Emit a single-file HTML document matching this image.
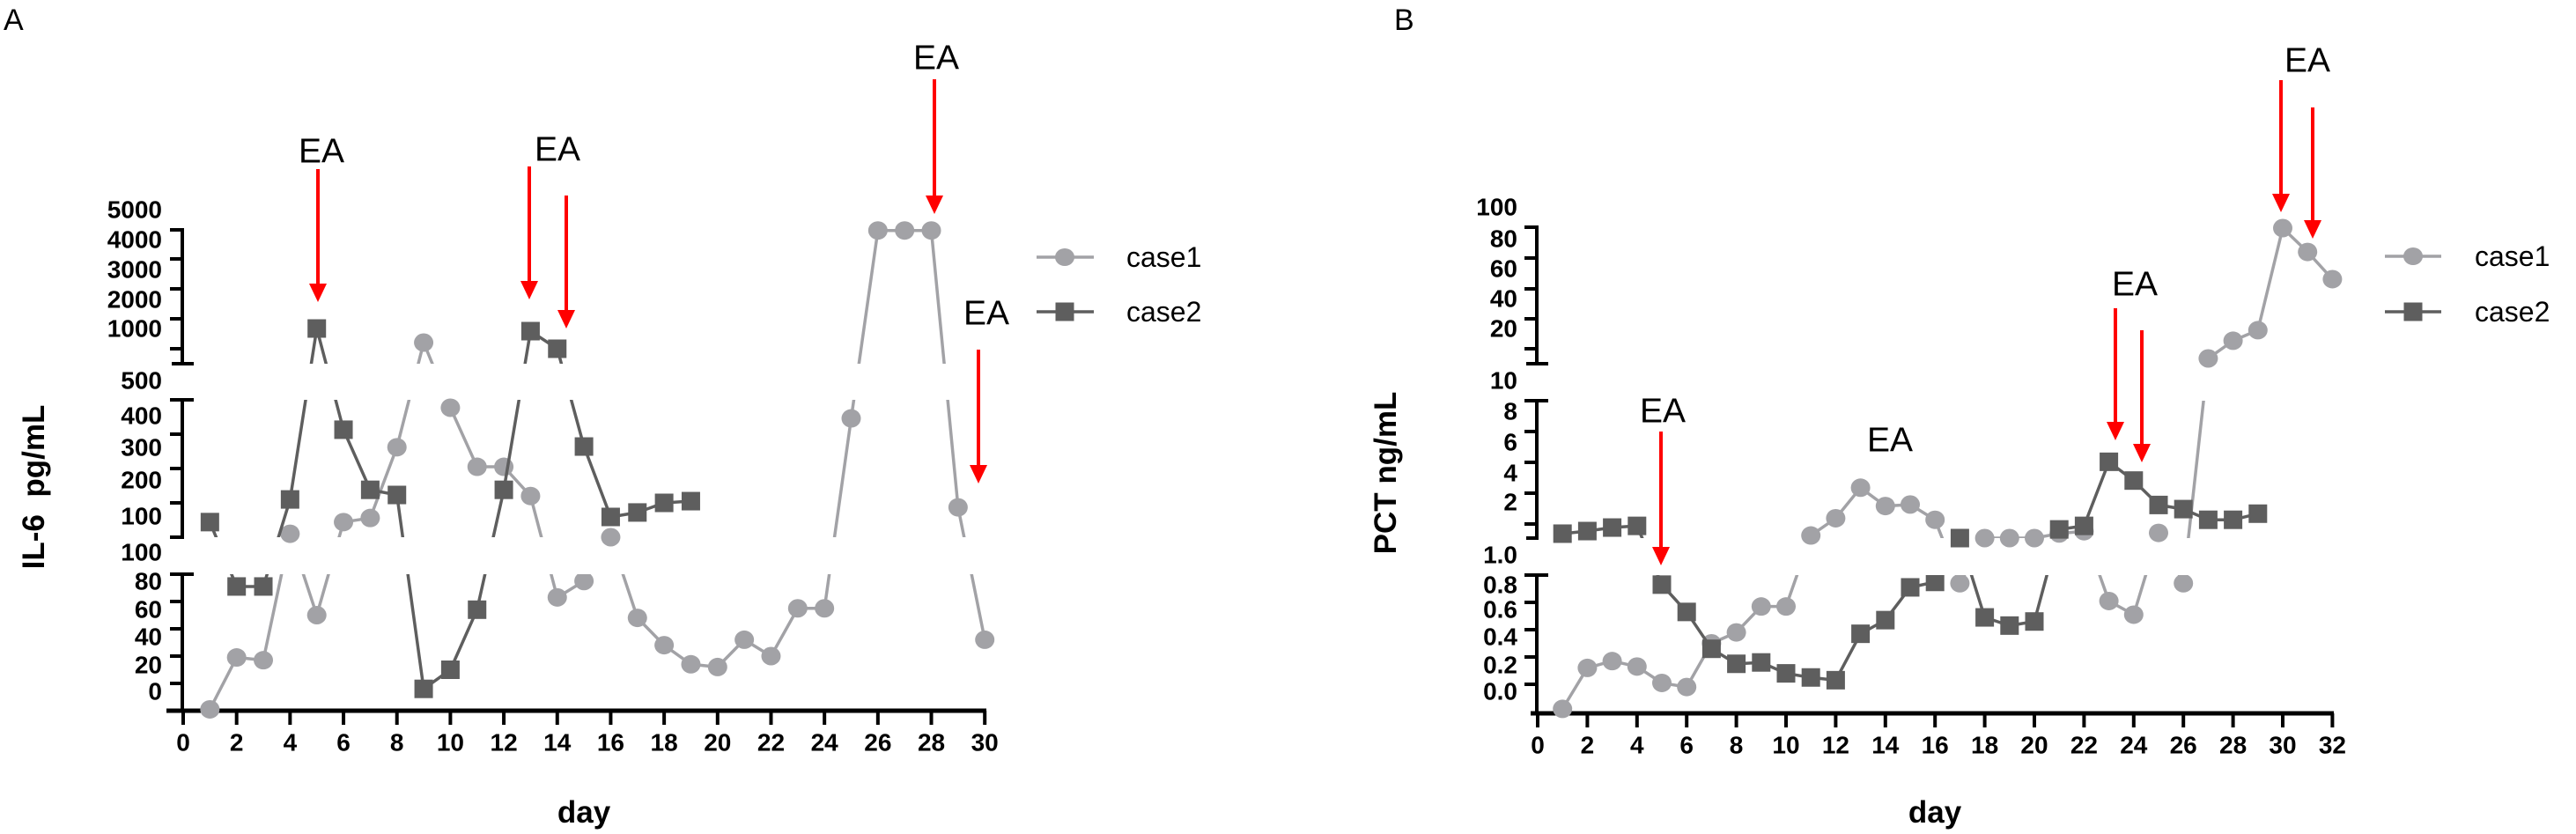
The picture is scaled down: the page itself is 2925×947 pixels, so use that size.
<!DOCTYPE html>
<html><head><meta charset="utf-8"><title>IL-6 and PCT charts</title>
<style>
html,body{margin:0;padding:0;background:#fff;}
svg{display:block;font-family:"Liberation Sans",Arial,sans-serif;}
.tl{font-size:28px;font-weight:bold;fill:#000;}
.ea{font-size:39px;fill:#000;}
.lg{font-size:32px;fill:#000;}
</style></head>
<body>
<svg id="chart" width="2925" height="947" viewBox="0 0 2925 947" xmlns="http://www.w3.org/2000/svg">
<rect width="2925" height="947" fill="#fff"/>
<defs>
  <clipPath id="aL0"><rect x="150" y="652" width="1000" height="200"/></clipPath>
  <clipPath id="aL1"><rect x="150" y="454" width="1000" height="156"/></clipPath>
  <clipPath id="aL2"><rect x="150" y="220" width="1000" height="193"/></clipPath>
  <clipPath id="aM0"><rect x="150" y="652" width="1000" height="295"/></clipPath>
  <clipPath id="aM1"><rect x="150" y="440" width="1000" height="185"/></clipPath>
  <clipPath id="aM2"><rect x="150" y="0" width="1000" height="425"/></clipPath>
  <clipPath id="bL0"><rect x="1700" y="653" width="1000" height="200"/></clipPath>
  <clipPath id="bL1"><rect x="1700" y="455" width="1000" height="156"/></clipPath>
  <clipPath id="bL2"><rect x="1700" y="220" width="1000" height="193"/></clipPath>
  <clipPath id="bM0"><rect x="1700" y="653" width="1000" height="294"/></clipPath>
  <clipPath id="bM1"><rect x="1700" y="440" width="1000" height="185"/></clipPath>
  <clipPath id="bM2"><rect x="1700" y="0" width="1000" height="425"/></clipPath>
</defs>

<text x="4" y="34" font-size="34">A</text>
<text x="1583" y="34" font-size="34">B</text>

<g stroke="#000" stroke-width="4" fill="none">
  <line x1="207" y1="259" x2="207" y2="415"/>
  <line x1="207" y1="452" x2="207" y2="612"/>
  <line x1="207" y1="650" x2="207" y2="809"/>
  <line x1="193" y1="261" x2="209" y2="261"/>
  <line x1="193" y1="294" x2="207" y2="294"/>
  <line x1="193" y1="328" x2="207" y2="328"/>
  <line x1="193" y1="362" x2="207" y2="362"/>
  <line x1="193" y1="396" x2="207" y2="396"/>
  <line x1="195" y1="413" x2="220" y2="413"/>
  <line x1="193" y1="454" x2="220" y2="454"/>
  <line x1="193" y1="493" x2="207" y2="493"/>
  <line x1="193" y1="532" x2="207" y2="532"/>
  <line x1="193" y1="571" x2="207" y2="571"/>
  <line x1="193" y1="610" x2="209" y2="610"/>
  <line x1="193" y1="652" x2="220" y2="652"/>
  <line x1="193" y1="683" x2="207" y2="683"/>
  <line x1="193" y1="714" x2="207" y2="714"/>
  <line x1="193" y1="745" x2="207" y2="745"/>
  <line x1="193" y1="776" x2="207" y2="776"/>
</g>
<g class="tl" text-anchor="end" dominant-baseline="central">
  <text x="184" y="238">5000</text><text x="184" y="272">4000</text><text x="184" y="306">3000</text>
  <text x="184" y="340">2000</text><text x="184" y="373">1000</text><text x="184" y="432">500</text>
  <text x="184" y="472">400</text><text x="184" y="508">300</text><text x="184" y="545">200</text>
  <text x="184" y="586">100</text><text x="184" y="627">100</text><text x="184" y="660">80</text>
  <text x="184" y="692">60</text><text x="184" y="723">40</text><text x="184" y="755">20</text>
  <text x="184" y="785">0</text>
</g>
<text transform="translate(50,553) rotate(-90)" text-anchor="middle" font-size="35" font-weight="bold" xml:space="preserve">IL-6  pg/mL</text>
<text x="663" y="934" text-anchor="middle" font-size="35" font-weight="bold">day</text>
<g id="axA"></g>

<g stroke="#000" stroke-width="4" fill="none">
  <line x1="1745" y1="256" x2="1745" y2="415"/>
  <line x1="1745" y1="453" x2="1745" y2="613"/>
  <line x1="1745" y1="651" x2="1745" y2="812"/>
  <line x1="1731" y1="258" x2="1747" y2="258"/>
  <line x1="1731" y1="293" x2="1745" y2="293"/>
  <line x1="1731" y1="328" x2="1745" y2="328"/>
  <line x1="1731" y1="362" x2="1745" y2="362"/>
  <line x1="1731" y1="396" x2="1745" y2="396"/>
  <line x1="1733" y1="413" x2="1758" y2="413"/>
  <line x1="1731" y1="455" x2="1758" y2="455"/>
  <line x1="1731" y1="490" x2="1745" y2="490"/>
  <line x1="1731" y1="525" x2="1745" y2="525"/>
  <line x1="1731" y1="560" x2="1745" y2="560"/>
  <line x1="1731" y1="595" x2="1745" y2="595"/>
  <line x1="1733" y1="611" x2="1747" y2="611"/>
  <line x1="1731" y1="653" x2="1758" y2="653"/>
  <line x1="1731" y1="684" x2="1745" y2="684"/>
  <line x1="1731" y1="715" x2="1745" y2="715"/>
  <line x1="1731" y1="746" x2="1745" y2="746"/>
  <line x1="1731" y1="777" x2="1745" y2="777"/>
</g>
<g class="tl" text-anchor="end" dominant-baseline="central">
  <text x="1723" y="235">100</text><text x="1723" y="271">80</text><text x="1723" y="305">60</text>
  <text x="1723" y="339">40</text><text x="1723" y="373">20</text><text x="1723" y="432">10</text>
  <text x="1723" y="467">8</text><text x="1723" y="502">6</text><text x="1723" y="537">4</text>
  <text x="1723" y="570">2</text><text x="1723" y="630">1.0</text><text x="1723" y="664">0.8</text>
  <text x="1723" y="692">0.6</text><text x="1723" y="723">0.4</text><text x="1723" y="755">0.2</text>
  <text x="1723" y="785">0.0</text>
</g>
<text transform="translate(1585,537) rotate(-90)" text-anchor="middle" font-size="35" font-weight="bold">PCT ng/mL</text>
<text x="2197" y="934" text-anchor="middle" font-size="35" font-weight="bold">day</text>
<g id="axB"></g>

<g id="plotA"></g>
<g id="plotB"></g>

<g>
  <g class="ea" text-anchor="middle" dominant-baseline="central">
    <text x="365" y="172">EA</text>
    <text x="633" y="170">EA</text>
    <text x="1063" y="66">EA</text>
    <text x="1120" y="356">EA</text>
    <text x="1888" y="467">EA</text>
    <text x="2146" y="500">EA</text>
    <text x="2424" y="323">EA</text>
    <text x="2620" y="69">EA</text>
  </g>
  <g id="arrows"></g>
</g>

<g>
  <g>
    <line x1="1177" y1="292" x2="1242" y2="292" stroke="#a2a2a6" stroke-width="3.5"/>
    <ellipse cx="1209" cy="292" rx="11" ry="10" fill="#a2a2a6"/>
    <text class="lg" x="1279" y="292" dominant-baseline="central">case1</text>
  </g>
  <g>
    <line x1="1177" y1="354" x2="1242" y2="354" stroke="#5e5e5e" stroke-width="3.5"/>
    <rect x="1198.5" y="343.5" width="21" height="21" fill="#5e5e5e"/>
    <text class="lg" x="1279" y="354" dominant-baseline="central">case2</text>
  </g>
</g>
<g>
  <g>
    <line x1="2708" y1="291" x2="2772" y2="291" stroke="#a2a2a6" stroke-width="3.5"/>
    <ellipse cx="2740" cy="291" rx="11" ry="10" fill="#a2a2a6"/>
    <text class="lg" x="2810" y="291" dominant-baseline="central">case1</text>
  </g>
  <g>
    <line x1="2708" y1="354" x2="2772" y2="354" stroke="#5e5e5e" stroke-width="3.5"/>
    <rect x="2729.5" y="343.5" width="21" height="21" fill="#5e5e5e"/>
    <text class="lg" x="2810" y="354" dominant-baseline="central">case2</text>
  </g>
</g>
</svg>

<script>
// ---- Panel A data (IL-6, pg/mL) ----
const daysA1 = [1,2,3,4,5,6,7,8,9,10,11,12,13,14,15,16,17,18,19,20,21,22,23,24,25,26,27,28,29,30];
const case1A = [-19,19,17,110,50,144,156,362,1206,477,305,305,220,63,75,100,48,28,14,12,32,20,55,55,446,4950,4950,4950,187,32];
const daysA2 = [1,2,3,4,5,6,7,8,9,10,11,12,13,14,15,16,17,18,19];
const case2A = [144,71,71,210,1676,413,238,223,-4,10,54,238,1588,1000,364,159,172,200,205];
const xTicksA = [0,2,4,6,8,10,12,14,16,18,20,22,24,26,28,30];

// ---- Panel B data (PCT, ng/mL) ----
const daysB1 = [1,2,3,4,5,6,7,8,9,10,11,12,13,14,15,16,17,18,19,20,21,22,23,24,25,26,27,28,29,30,31,32];
const case1B = [-0.18,0.12,0.17,0.13,0.01,-0.02,0.3,0.38,0.57,0.57,1.17,2.3,4.3,3.1,3.2,2.2,0.74,1.0,1.0,1.0,1.3,1.45,0.61,0.51,1.34,0.74,13.5,25.2,32.2,99.8,84,66];
const daysB2 = [1,2,3,4,5,6,7,8,9,10,11,12,13,14,15,16,17,18,19,20,21,22,23,24,25,26,27,28,29];
const case2B = [1.29,1.46,1.69,1.8,0.73,0.53,0.26,0.15,0.16,0.08,0.05,0.03,0.37,0.47,0.71,0.75,1.0,0.49,0.43,0.46,1.57,1.8,6.0,4.77,3.17,2.9,2.2,2.2,2.6];
const xTicksB = [0,2,4,6,8,10,12,14,16,18,20,22,24,26,28,30,32];

const NS = 'http://www.w3.org/2000/svg';
function xA(d){ return 208 + 30.34*d; }
function xB(d){ return 1746 + 28.2*d; }
function segA(v){ return v <= 90 ? 0 : (v <= 500 ? 1 : 2); }
function yA(v){
  if (v <= 90) return 776 - 1.55*v;
  if (v <= 500) return 610 - 0.39*(v-100);
  return 413 - 0.034*(v-500);
}
function segB(v){ return v < 0.9 ? 0 : (v < 10 ? 1 : 2); }
function yB(v){
  if (v < 0.9) return 777 - 155*v;
  if (v < 10) return 611 - 17.33*(v-1);
  return 413 - 1.715*(v-10);
}
function mk(tag, attrs, parent){
  const e = document.createElementNS(NS, tag);
  for (const k in attrs) e.setAttribute(k, attrs[k]);
  parent.appendChild(e);
  return e;
}

function drawXAxis(g, ticks, xf, x0, x1, y){
  const axl = mk('line', {x1:x0, y1:y, x2:x1, y2:y, stroke:'#000', 'stroke-width':5}, g);
  
  
  ticks.forEach(t => {
    const tk = mk('line', {x1:xf(t), y1:y, x2:xf(t), y2:y+16, stroke:'#000', 'stroke-width':4}, g);
    
    
    const lb = mk('text', {x:xf(t), y:y+36, 'text-anchor':'middle', 'dominant-baseline':'central', class:'tl'}, g);
    lb.textContent = String(t);
    
    
  });
}
drawXAxis(document.getElementById('axA'), xTicksA, xA, 189, 1120, 807);
drawXAxis(document.getElementById('axB'), xTicksB, xB, 1738, 2650, 810);

function drawSeries(g, days, vals, xf, yf, sf, pfx, color, shape, name){
  const pts = days.map((d,i) => [xf(d), yf(vals[i]), sf(vals[i])]);
  const dstr = pts.map((p,i) => (i ? 'L' : 'M') + p[0].toFixed(1) + ' ' + p[1].toFixed(1)).join(' ');
  for (let s = 0; s < 3; s++){
    const ln = mk('path', {d:dstr, fill:'none', stroke:color, 'stroke-width':3.5, 'stroke-linejoin':'round', 'clip-path':'url(#'+pfx+'L'+s+')'}, g);
    
    
  }
  const groups = [0,1,2].map(s => mk('g', {'clip-path':'url(#'+pfx+'M'+s+')'}, g));
  pts.forEach(p => {
    let m;
    if (shape === 'circle') m = mk('ellipse', {cx:p[0], cy:p[1], rx:11, ry:10.5, fill:color}, groups[p[2]]);
    else m = mk('rect', {x:p[0]-10.5, y:p[1]-10.5, width:21, height:21, fill:color}, groups[p[2]]);
    
    
  });
}
const pA = document.getElementById('plotA');
drawSeries(pA, daysA1, case1A, xA, yA, segA, 'a', '#a2a2a6', 'circle', 'case1');
drawSeries(pA, daysA2, case2A, xA, yA, segA, 'a', '#5e5e5e', 'square', 'case2');
const pB = document.getElementById('plotB');
drawSeries(pB, daysB1, case1B, xB, yB, segB, 'b', '#a2a2a6', 'circle', 'case1');
drawSeries(pB, daysB2, case2B, xB, yB, segB, 'b', '#5e5e5e', 'square', 'case2');

const arrowLayout = [[361,192,343],[601,189,340],[643,222,373],[1061,90,243],[1111,397,549],
                     [1886,490,642],[2402,350,500],[2432,375,525],[2590,91,241],[2626,122,271]];
const ag = document.getElementById('arrows');
arrowLayout.forEach(a => {
  const x = a[0], y1 = a[1], tip = a[2];
  const g = mk('g', {}, ag);
  
  
  mk('line', {x1:x, y1:y1, x2:x, y2:tip-18, stroke:'#ff0000', 'stroke-width':4}, g);
  mk('polygon', {points:(x-10)+','+(tip-21)+' '+(x+10)+','+(tip-21)+' '+x+','+tip, fill:'#ff0000'}, g);
});
</script>
</body></html>
